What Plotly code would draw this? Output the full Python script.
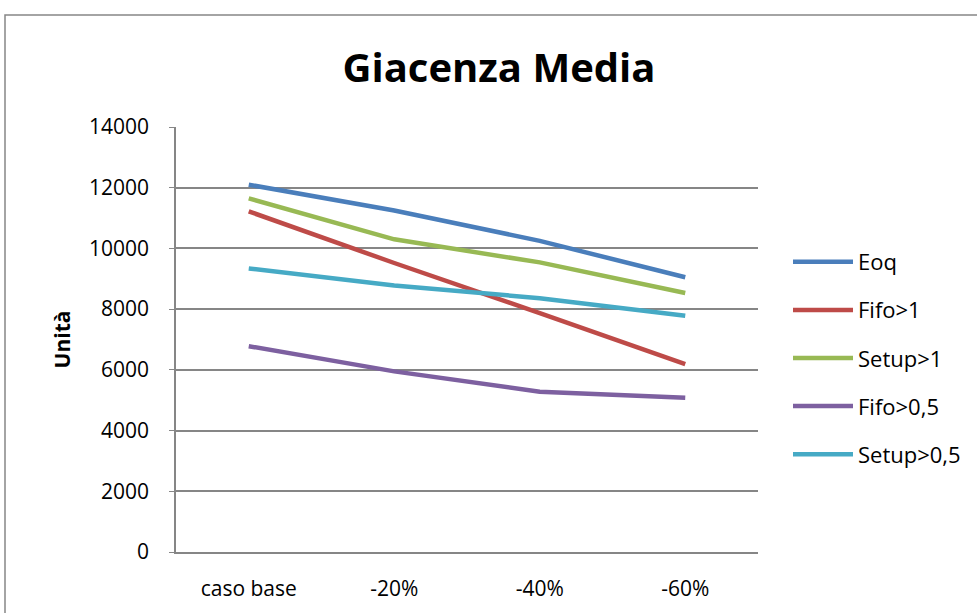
import plotly.graph_objects as go

categories = ["caso base", "-20%", "-40%", "-60%"]
eoq = [12100, 11250, 10250, 9050]
fifo_1 = [11220, 9520, 7870, 6190]
setup_1 = [11650, 10300, 9540, 8530]
fifo_05 = [6780, 5950, 5280, 5080]
setup_05 = [9340, 8780, 8360, 7780]

series = [
    ("Eoq", eoq, "#4A7EBB"),
    ("Fifo>1", fifo_1, "#BE4B48"),
    ("Setup>1", setup_1, "#98B954"),
    ("Fifo>0,5", fifo_05, "#7D60A0"),
    ("Setup>0,5", setup_05, "#46AAC5"),
]

W, H = 977, 613
L, R, T, B = 176, 219, 127, 61
pw, ph = W - L - R, H - T - B

fig = go.Figure()
for i, (name, vals, color) in enumerate(series):
    fig.add_trace(go.Scatter(
        x=categories, y=vals, name=name, mode="lines",
        line=dict(color=color, width=4.5),
        legendgroup=f"g{i}",
    ))

font = "Open Sans, sans-serif"
grid = "#868686"

fig.update_layout(
    width=W, height=H,
    margin=dict(l=L, r=R, t=T, b=B, autoexpand=False),
    paper_bgcolor="white", plot_bgcolor="white",
    font=dict(family=font, size=21, color="black"),
    title=dict(text="<b>Giacenza Media</b>", x=499 / W, xanchor="center",
               y=1 - 68 / H, yanchor="middle",
               font=dict(family=font, size=40, color="black")),
    showlegend=True,
    legend=dict(x=(788 - L) / pw, y=(552 - 241) / ph, xanchor="left", yanchor="top",
                font=dict(family=font, size=22), tracegroupgap=16.5,
                traceorder="grouped", bgcolor="rgba(0,0,0,0)", itemwidth=60),
    xaxis=dict(type="category", range=[-0.5, 3.5], showgrid=False,
               showline=True, linecolor=grid, linewidth=1.5, automargin=False,
               ticks="", ticklabelstandoff=17, tickfont=dict(size=21)),
    yaxis=dict(range=[0, 14000], dtick=2000, tickformat="d", automargin=False,
               showgrid=True, gridcolor=grid,
               gridwidth=1.5, showline=True, linecolor=grid, linewidth=1.5,
               ticks="outside", ticklen=5, tickcolor=grid, ticklabelstandoff=16,
               tickfont=dict(size=21), zeroline=False,
               title=dict(text="<b>Unità</b>", standoff=13,
                          font=dict(family=font, size=21))),
    shapes=[dict(type="rect", xref="paper", yref="paper",
                 x0=(5 - L) / pw, x1=(W + 5 - L) / pw,
                 y0=(552 - (H + 5)) / ph, y1=(552 - 15) / ph,
                 line=dict(color=grid, width=1.5), fillcolor="rgba(0,0,0,0)",
                 layer="below")],
)

fig.write_html("out.html")
